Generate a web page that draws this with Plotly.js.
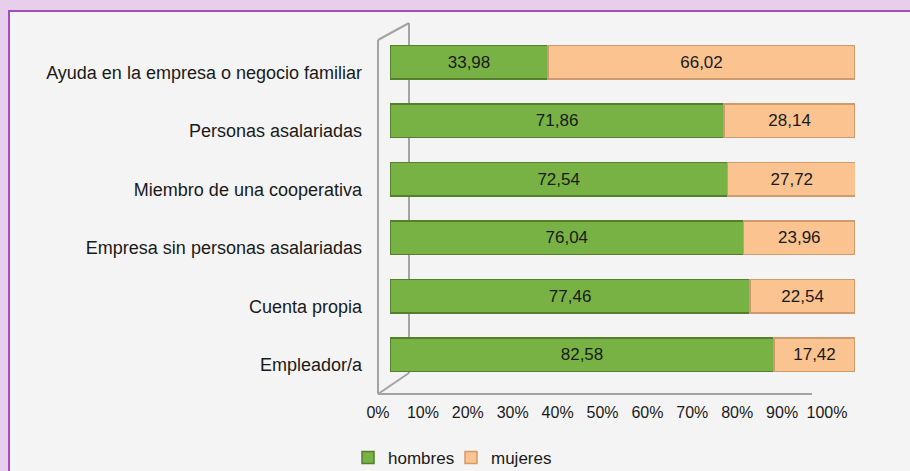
<!DOCTYPE html>
<html>
<head>
<meta charset="utf-8">
<script src="https://cdn.plot.ly/plotly-3.0.1.min.js"></script>
<style>
  html, body { margin: 0; padding: 0; }
  body { width: 910px; height: 471px; background: #e7cfeb; position: relative; overflow: hidden; }
  #frame { position: absolute; left: 8px; top: 10px; width: 920px; height: 480px;
           background: #f4f4f4; border: 2px solid #a54dbd; }
  #chart { position: absolute; left: 0; top: 0; width: 910px; height: 471px; }
</style>
</head>
<body>
<div id="frame"></div>
<div id="chart"></div>
<script>
const categories = [
  'Ayuda en la empresa o negocio familiar',
  'Personas asalariadas',
  'Miembro de una cooperativa',
  'Empresa sin personas asalariadas',
  'Cuenta propia',
  'Empleador/a'
];
const hombres = [33.98, 71.86, 72.54, 76.04, 77.46, 82.58];
const mujeres = [66.02, 28.14, 27.72, 23.96, 22.54, 17.42];
const tickValues = [0, 10, 20, 30, 40, 50, 60, 70, 80, 90, 100];
const tickLabels = ['0%', '10%', '20%', '30%', '40%', '50%', '60%', '70%', '80%', '90%', '100%'];

const FAM = 'Liberation Sans, Arial, sans-serif';
const catFont = { family: FAM, size: 18, color: '#1a1a1a' };
const valFont = { family: FAM, size: 17, color: '#1a1a1a' };
const tickFont = { family: FAM, size: 16, color: '#1a1a1a' };
const legFont = { family: FAM, size: 17, color: '#1a1a1a' };

const traces = [
  {
    type: 'bar', orientation: 'h', name: 'hombres',
    y: categories, x: hombres,
    marker: { color: '#78b244', line: { color: '#547f2c', width: 1.5 } },
    texttemplate: '%{x:.2f}', textposition: 'inside', insidetextanchor: 'middle',
    textfont: valFont, hoverinfo: 'x+y'
  },
  {
    type: 'bar', orientation: 'h', name: 'mujeres',
    y: categories, x: mujeres,
    marker: { color: '#fbc38f', line: { color: '#cf9a6c', width: 1.5 } },
    texttemplate: '%{x:.2f}', textposition: 'inside', insidetextanchor: 'middle',
    textfont: valFont, hoverinfo: 'x+y'
  },
  // empty trace only so that the tick-label axis (x2) gets drawn
  { type: 'scatter', x: [], y: [], xaxis: 'x2', yaxis: 'y', showlegend: false, hoverinfo: 'skip' }
];

// plot area: x 378..855 px, y 33..384 px
const W = 477, H = 351, X0 = 378, Y1 = 384;
const px = v => (v - X0) / W;
const py = v => (Y1 - v) / H;
const wall = { color: '#a3a3a3', width: 2 };
function seg(x0, y0, x1, y1) {
  return { type: 'line', xref: 'paper', yref: 'paper', layer: 'below',
           x0: px(x0), y0: py(y0), x1: px(x1), y1: py(y1), line: wall };
}

const layout = {
  width: 910, height: 471,
  margin: { l: 378, r: 55, t: 33, b: 87, autoexpand: false },
  paper_bgcolor: 'rgba(0,0,0,0)',
  plot_bgcolor: 'rgba(0,0,0,0)',
  separators: ',.',
  barmode: 'stack',
  bargap: 0.42,
  font: valFont,
  showlegend: true,
  legend: {
    orientation: 'h', xref: 'container', yref: 'container',
    x: 348 / 910, xanchor: 'left', y: 13 / 471, yanchor: 'middle',
    font: legFont, itemwidth: 30, traceorder: 'normal',
    entrywidth: 58, entrywidthmode: 'pixels',
    bgcolor: 'rgba(0,0,0,0)'
  },
  xaxis: {
    domain: [12 / W, 1], range: [0, 100], visible: false, fixedrange: true
  },
  xaxis2: {
    domain: [0, 449 / W], range: [0, 100], anchor: 'y',
    tickvals: tickValues, ticktext: tickLabels, ticks: '',
    showgrid: false, zeroline: false, showline: false,
    tickfont: tickFont, ticklabelstandoff: 17
  },
  yaxis: {
    type: 'category', autorange: 'reversed',
    showgrid: false, zeroline: false, showline: false, ticks: '',
    tickfont: catFont, ticklabelshift: -10, ticklabelstandoff: 27
  },
  shapes: [
    seg(378, 40, 378, 394),
    seg(378, 40, 409, 23),
    seg(409, 23, 409, 373),
    seg(378, 394, 409, 373),
    seg(378, 394, 812, 394)
  ]
};

Plotly.newPlot('chart', traces, layout, { displayModeBar: false, staticPlot: true });
</script>
</body>
</html>
